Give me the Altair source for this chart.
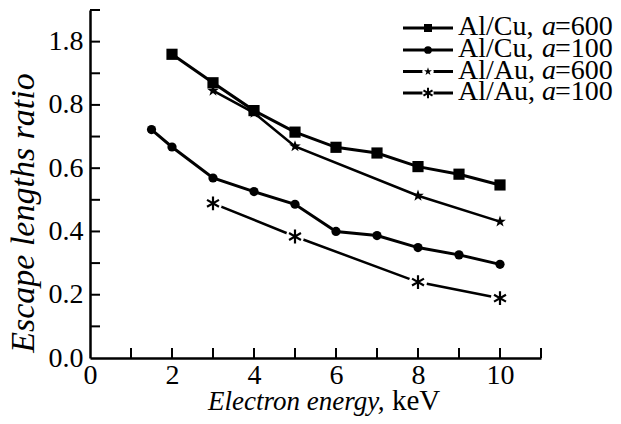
import altair as alt
import pandas as pd

# ---- data ----
x_cu600 = [2, 3, 4, 5, 6, 7, 8, 9, 10]
y_cu600 = [0.960, 0.870, 0.782, 0.714, 0.666, 0.648, 0.605, 0.581, 0.547]

x_cu100 = [1.5, 2, 3, 4, 5, 6, 7, 8, 9, 10]
y_cu100 = [0.722, 0.667, 0.569, 0.526, 0.486, 0.400, 0.387, 0.349, 0.326, 0.296]

x_au600 = [3, 4, 5, 8, 10]
y_au600 = [0.845, 0.775, 0.669, 0.513, 0.431]

x_au100 = [3, 5, 8, 10]
y_au100 = [0.489, 0.384, 0.240, 0.189]

x_label_values = [0, 2, 4, 6, 8, 10]
y_label_values = [0.0, 0.2, 0.4, 0.6, 0.8, 1.0]
x_tick_values = [1, 2, 3, 4, 5, 6, 7, 8, 9, 10, 11]
y_tick_values = [0.1, 0.2, 0.3, 0.4, 0.5, 0.6, 0.7, 0.8, 0.9, 1.0, 1.1]

legend_names = ["Al/Cu,", "Al/Cu,", "Al/Au,", "Al/Au,"]
legend_values = ["=600", "=100", "=600", "=100"]

# ---- layout ----
W, H = 451, 348
FONT = "Liberation Serif, Times New Roman, Times, serif"
STAR = ("M0,-1L0.235,-0.324L0.951,-0.309L0.38,0.124L0.588,0.809L0,0.4"
        "L-0.588,0.809L-0.38,0.124L-0.951,-0.309L-0.235,-0.324Z")
AST = "M0,-1L0,1M-0.866,-0.5L0.866,0.5M-0.866,0.5L0.866,-0.5"

xs = alt.Scale(domain=[0, 11], nice=False, zero=False)
ys = alt.Scale(domain=[0, 1.1], nice=False, zero=False)

X_AX = alt.Axis(values=x_label_values, format="d", ticks=False, grid=False,
                domainColor="black", domainWidth=2.5, labelFont=FONT,
                labelFontSize=28, labelColor="black", labelPadding=3,
                labelFlush=False, title=None)
Y_AX = alt.Axis(values=y_label_values, ticks=False, grid=False,
                domainColor="black", domainWidth=2.5, labelFont=FONT,
                labelFontSize=28, labelColor="black", labelPadding=7,
                labelFlush=False, title=None,
                labelExpr="datum.value == 1 ? '1.8' : format(datum.value, '.1f')")


def df(xv, yv):
    return pd.DataFrame({"x": xv, "y": yv})


def enc():
    return dict(x=alt.X("x:Q", scale=xs, axis=X_AX), y=alt.Y("y:Q", scale=ys, axis=Y_AX))


layers = []

# lines
layers.append(alt.Chart(df(x_cu600, y_cu600)).mark_line(color="black", strokeWidth=3).encode(**enc()))
layers.append(alt.Chart(df(x_cu100, y_cu100)).mark_line(color="black", strokeWidth=3).encode(**enc()))
layers.append(alt.Chart(df(x_au600, y_au600)).mark_line(color="black", strokeWidth=2.5).encode(**enc()))
layers.append(alt.Chart(df(x_au100, y_au100)).mark_line(color="black", strokeWidth=2.5).encode(**enc()))

# markers
layers.append(alt.Chart(df(x_cu600, y_cu600)).mark_point(shape="square", filled=True, color="black",
                                                          size=125, opacity=1).encode(**enc()))
layers.append(alt.Chart(df(x_cu100, y_cu100)).mark_point(shape="circle", filled=True, color="black",
                                                          size=85, opacity=1).encode(**enc()))
layers.append(alt.Chart(df(x_au600, y_au600)).mark_point(shape=STAR, filled=True, color="black",
                                                          size=150, opacity=1).encode(**enc()))
layers.append(alt.Chart(df(x_au100, y_au100)).mark_point(shape="circle", filled=True, color="white",
                                                          size=330, opacity=1).encode(**enc()))
layers.append(alt.Chart(df(x_au100, y_au100)).mark_point(shape=AST, filled=False, color="black",
                                                          strokeWidth=2.2, size=190, opacity=1).encode(**enc()))

# inward ticks
layers.append(alt.Chart(pd.DataFrame({"x": x_tick_values})).mark_rule(color="black", strokeWidth=2).encode(
    x=alt.X("x:Q", scale=xs, axis=X_AX), y=alt.value(H), y2=alt.value(H - 10)))
layers.append(alt.Chart(pd.DataFrame({"y": y_tick_values})).mark_rule(color="black", strokeWidth=2).encode(
    y=alt.Y("y:Q", scale=ys, axis=Y_AX), x=alt.value(0), x2=alt.value(10)))

# axis titles
one = pd.DataFrame({"t": [0]})
layers.append(alt.Chart(one).mark_text(text="Escape lengths ratio", font=FONT, fontSize=34,
                                       fontStyle="italic", angle=270, align="center",
                                       baseline="middle", color="black").encode(
    x=alt.value(-66), y=alt.value(203)))
layers.append(alt.Chart(one).mark_text(text="Electron energy,", font=FONT, fontSize=27,
                                       fontStyle="italic", align="left", baseline="alphabetic",
                                       color="black").encode(x=alt.value(118), y=alt.value(400)))
layers.append(alt.Chart(one).mark_text(text="keV", font=FONT, fontSize=29, align="left",
                                       baseline="alphabetic", color="black").encode(
    x=alt.value(302), y=alt.value(400)))

# legend
row_base = [25, 47, 68.5, 90]
legend_shapes = [("square", True, 64, 0), ("circle", True, 60, 0), (STAR, True, 70, 0), (AST, False, 110, 2)]
for i in range(4):
    yb = row_base[i]
    yc = yb - 7
    layers.append(alt.Chart(one).mark_rule(color="black", strokeWidth=3).encode(
        x=alt.value(313), x2=alt.value(363), y=alt.value(yc)))
    shp, fill, sz, sw = legend_shapes[i]
    if i >= 2:
        layers.append(alt.Chart(one).mark_point(shape="circle", filled=True, color="white",
                                                size=130, opacity=1).encode(
            x=alt.value(338), y=alt.value(yc)))
    if fill:
        layers.append(alt.Chart(one).mark_point(shape=shp, filled=True, color="black",
                                                size=sz, opacity=1).encode(
            x=alt.value(338), y=alt.value(yc)))
    else:
        layers.append(alt.Chart(one).mark_point(shape=shp, filled=False, color="black",
                                                strokeWidth=sw, size=sz, opacity=1).encode(
            x=alt.value(338), y=alt.value(yc)))
    layers.append(alt.Chart(one).mark_text(text=legend_names[i], font=FONT, fontSize=28,
                                           align="left", baseline="alphabetic", color="black").encode(
        x=alt.value(368), y=alt.value(yb)))
    layers.append(alt.Chart(one).mark_text(text="a", font=FONT, fontSize=28, fontStyle="italic",
                                           align="left", baseline="alphabetic", color="black").encode(
        x=alt.value(452), y=alt.value(yb)))
    layers.append(alt.Chart(one).mark_text(text=legend_values[i], font=FONT, fontSize=28,
                                           align="left", baseline="alphabetic", color="black").encode(
        x=alt.value(465), y=alt.value(yb)))

chart = alt.layer(*layers).properties(
    width=W, height=H,
    autosize=alt.AutoSizeParams(type="none"),
    padding={"left": 90, "top": 10, "right": 80, "bottom": 66},
    background="white",
).configure_view(strokeWidth=0)

chart.save("out.html", embed_options={"renderer": "svg", "actions": False})
